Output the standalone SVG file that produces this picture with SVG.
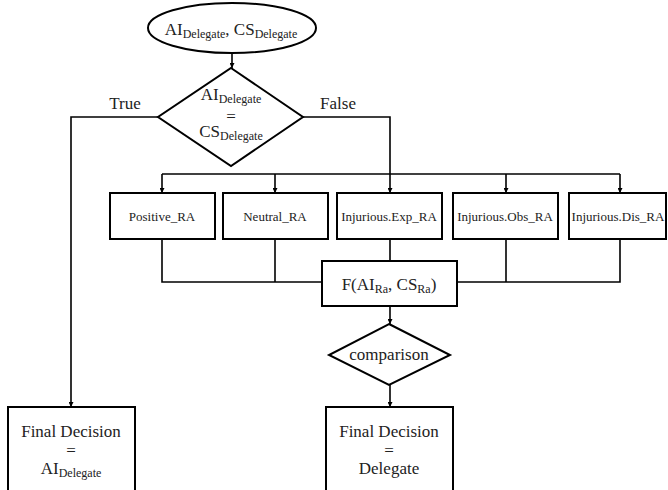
<svg xmlns="http://www.w3.org/2000/svg" width="668" height="490" viewBox="0 0 668 490">
<style>
text{font-family:"Liberation Serif","DejaVu Serif","Times New Roman",serif;fill:#222;text-anchor:middle}
.t17{font-size:17px}
.t13{font-size:13px}
.sub{font-size:12px}
.shape{fill:#fff;stroke:#000;stroke-width:2}
.conn{fill:none;stroke:#000;stroke-width:1.6}
</style>
<defs>
<marker id="arr" viewBox="0 0 8 8" refX="8" refY="4" markerWidth="5" markerHeight="5" orient="auto" markerUnits="userSpaceOnUse">
<path d="M0,0 L8,4 L0,8 z" fill="#000"/>
</marker>
</defs>
<g id="connectors">
<line class="conn" x1="232" y1="53" x2="232" y2="68" marker-end="url(#arr)"/>
<polyline class="conn" points="158,117 71,117 71,407" marker-end="url(#arr)"/>
<polyline class="conn" points="303,117 390,117 390,193" marker-end="url(#arr)"/>
<line class="conn" x1="162" y1="174" x2="620" y2="174"/>
<line class="conn" x1="162" y1="174" x2="162" y2="193" marker-end="url(#arr)"/>
<line class="conn" x1="275" y1="174" x2="275" y2="193" marker-end="url(#arr)"/>
<line class="conn" x1="506" y1="174" x2="506" y2="193" marker-end="url(#arr)"/>
<line class="conn" x1="620" y1="174" x2="620" y2="193" marker-end="url(#arr)"/>
<polyline class="conn" points="162,239 162,282 322,282"/>
<line class="conn" x1="275" y1="239" x2="275" y2="282"/>
<line class="conn" x1="390" y1="239" x2="390" y2="261"/>
<polyline class="conn" points="620,239 620,282 457,282"/>
<line class="conn" x1="506" y1="239" x2="506" y2="282"/>
<line class="conn" x1="390" y1="306" x2="390" y2="324" marker-end="url(#arr)"/>
<line class="conn" x1="390" y1="385" x2="390" y2="407" marker-end="url(#arr)"/>
<text class="t17" x="125" y="109" font-family="Liberation Serif, serif">True</text>
<text class="t17" x="338" y="109" font-family="Liberation Serif, serif">False</text>
</g>
<g id="start">
<ellipse class="shape" cx="232" cy="28" rx="84" ry="25"/>
<text class="t17" x="231" y="35">AI<tspan class="sub" dy="3">Delegate</tspan><tspan dy="-3">, CS</tspan><tspan class="sub" dy="3">Delegate</tspan></text>
</g>
<g id="decision">
<polygon class="shape" points="231,68 303,117 231,166 158,117"/>
<text class="t17" x="231" y="100">AI<tspan class="sub" dy="3">Delegate</tspan></text>
<text class="t17" x="231" y="122">=</text>
<text class="t17" x="231" y="137">CS<tspan class="sub" dy="3">Delegate</tspan></text>
</g>
<g id="positive">
<rect class="shape" x="110" y="193" width="105" height="46"/>
<text class="t13" x="162" y="221">Positive_RA</text>
</g>
<g id="neutral">
<rect class="shape" x="223" y="193" width="105" height="46"/>
<text class="t13" x="275" y="221">Neutral_RA</text>
</g>
<g id="exp">
<rect class="shape" x="337" y="193" width="105" height="46"/>
<text class="t13" x="389" y="221">Injurious.Exp_RA</text>
</g>
<g id="obs">
<rect class="shape" x="453" y="193" width="105" height="46"/>
<text class="t13" x="505" y="221">Injurious.Obs_RA</text>
</g>
<g id="dis">
<rect class="shape" x="569" y="193" width="97" height="46"/>
<text class="t13" x="618" y="221">Injurious.Dis_RA</text>
</g>
<g id="func">
<rect class="shape" x="322" y="261" width="135" height="45"/>
<text class="t17" x="389" y="290">F(AI<tspan class="sub" dy="3">Ra</tspan><tspan dy="-3">, CS</tspan><tspan class="sub" dy="3">Ra</tspan><tspan dy="-3">)</tspan></text>
</g>
<g id="comparison">
<polygon class="shape" points="389,324 450,355 389,385 329,355"/>
<text class="t17" x="389" y="360">comparison</text>
</g>
<g id="final-ai">
<rect class="shape" x="8" y="407" width="127" height="90"/>
<text class="t17" x="71" y="437">Final Decision</text>
<text class="t17" x="71" y="456">=</text>
<text class="t17" x="71" y="474">AI<tspan class="sub" dy="3">Delegate</tspan></text>
</g>
<g id="final-delegate">
<rect class="shape" x="326" y="407" width="127" height="90"/>
<text class="t17" x="389" y="437">Final Decision</text>
<text class="t17" x="389" y="456">=</text>
<text class="t17" x="389" y="474">Delegate</text>
</g>
</svg>
